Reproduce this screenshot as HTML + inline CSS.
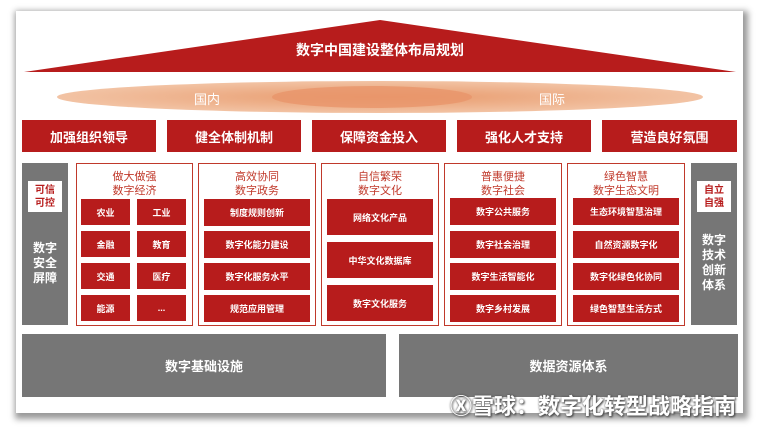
<!DOCTYPE html>
<html><head><meta charset="utf-8"><style>
body{margin:0;width:759px;height:429px;background:#fff;position:relative;overflow:hidden;font-family:"Liberation Sans","Noto Sans CJK SC",sans-serif}
.a{position:absolute;box-sizing:border-box}
.card{left:16px;top:11px;width:727px;height:402px;background:#fff;box-shadow:2px 3px 6px 3px #999}
.r{background:#b71c1c;color:#fff;font-weight:bold;display:flex;align-items:center;justify-content:center;text-align:center}
.top{font-size:13px}
.col{border:1.5px solid #c0392b;background:#fff}
.ct{color:#c0392b;font-size:11px;text-align:center;line-height:14px}
.s{font-size:9px}
.g{background:#767676;color:#fff;font-weight:bold;display:flex;align-items:center;justify-content:center;text-align:center}
.wb{background:#fff;color:#b71c1c;font-size:10px;font-weight:bold;line-height:13px;display:flex;align-items:center;justify-content:center;text-align:center}
</style></head><body>
<div class="a card"></div>
<svg class="a" style="left:0;top:0" width="759" height="429">
<defs><radialGradient id="e" cx="50%" cy="50%" r="50%"><stop offset="0" stop-color="#e89a6c"/><stop offset="1" stop-color="#f2c3a4"/></radialGradient></defs>
<polygon points="24,72 380,20 736,72" fill="#b71c1c"/>
<ellipse cx="380" cy="97" rx="323" ry="16" fill="url(#e)"/>
<ellipse cx="372" cy="97" rx="100" ry="11" fill="#e8956a" opacity="0.8"/>
<text x="380" y="55" fill="#fff" font-size="14" font-weight="bold" text-anchor="middle" font-family="Liberation Sans,Noto Sans CJK SC,sans-serif">数字中国建设整体布局规划</text>
<text x="207" y="104" fill="#fff" font-size="13" text-anchor="middle" font-family="Liberation Sans,Noto Sans CJK SC,sans-serif">国内</text>
<text x="552" y="104" fill="#fff" font-size="13" text-anchor="middle" font-family="Liberation Sans,Noto Sans CJK SC,sans-serif">国际</text>
</svg>
<div class="a r top" style="left:22px;top:120px;width:134px;height:32px">加强组织领导</div>
<div class="a r top" style="left:167px;top:120px;width:134px;height:32px">健全体制机制</div>
<div class="a r top" style="left:312px;top:120px;width:134px;height:32px">保障资金投入</div>
<div class="a r top" style="left:457px;top:120px;width:134px;height:32px">强化人才支持</div>
<div class="a r top" style="left:602px;top:120px;width:135px;height:32px">营造良好氛围</div>

<div class="a g" style="left:22px;top:163px;width:46px;height:162px;font-size:12px;line-height:15px;padding-top:38px">数字<br>安全<br>屏障</div>
<div class="a wb" style="left:28px;top:181px;width:34px;height:31px">可信<br>可控</div>
<div class="a g" style="left:691px;top:163px;width:46px;height:162px;font-size:12px;line-height:15px;padding-top:38px">数字<br>技术<br>创新<br>体系</div>
<div class="a wb" style="left:697px;top:181px;width:34px;height:31px">自立<br>自强</div>

<div class="a col" style="left:76px;top:163px;width:117px;height:163px"></div>
<div class="a ct" style="left:76px;top:170px;width:117px">做大做强<br>数字经济</div>
<div class="a r s" style="left:81px;top:199px;width:49px;height:26px">农业</div>
<div class="a r s" style="left:137px;top:199px;width:49px;height:26px">工业</div>
<div class="a r s" style="left:81px;top:231px;width:49px;height:26px">金融</div>
<div class="a r s" style="left:137px;top:231px;width:49px;height:26px">教育</div>
<div class="a r s" style="left:81px;top:263px;width:49px;height:26px">交通</div>
<div class="a r s" style="left:137px;top:263px;width:49px;height:26px">医疗</div>
<div class="a r s" style="left:81px;top:295px;width:49px;height:26px">能源</div>
<div class="a r s" style="left:137px;top:295px;width:49px;height:26px">...</div>

<div class="a col" style="left:198px;top:163px;width:118px;height:163px"></div>
<div class="a ct" style="left:198px;top:170px;width:118px">高效协同<br>数字政务</div>
<div class="a r s" style="left:204px;top:199px;width:106px;height:27px">制度规则创新</div>
<div class="a r s" style="left:204px;top:231px;width:106px;height:27px">数字化能力建设</div>
<div class="a r s" style="left:204px;top:263px;width:106px;height:27px">数字化服务水平</div>
<div class="a r s" style="left:204px;top:295px;width:106px;height:27px">规范应用管理</div>

<div class="a col" style="left:321px;top:163px;width:118px;height:163px"></div>
<div class="a ct" style="left:321px;top:170px;width:118px">自信繁荣<br>数字文化</div>
<div class="a r s" style="left:327px;top:199px;width:106px;height:36px">网络文化产品</div>
<div class="a r s" style="left:327px;top:242px;width:106px;height:36px">中华文化数据库</div>
<div class="a r s" style="left:327px;top:285px;width:106px;height:36px">数字文化服务</div>

<div class="a col" style="left:444px;top:163px;width:118px;height:163px"></div>
<div class="a ct" style="left:444px;top:170px;width:118px">普惠便捷<br>数字社会</div>
<div class="a r s" style="left:450px;top:198px;width:106px;height:27px">数字公共服务</div>
<div class="a r s" style="left:450px;top:231px;width:106px;height:27px">数字社会治理</div>
<div class="a r s" style="left:450px;top:263px;width:106px;height:27px">数字生活智能化</div>
<div class="a r s" style="left:450px;top:295px;width:106px;height:27px">数字乡村发展</div>

<div class="a col" style="left:567px;top:163px;width:118px;height:163px"></div>
<div class="a ct" style="left:567px;top:170px;width:118px">绿色智慧<br>数字生态文明</div>
<div class="a r s" style="left:573px;top:198px;width:106px;height:27px">生态环境智慧治理</div>
<div class="a r s" style="left:573px;top:231px;width:106px;height:27px">自然资源数字化</div>
<div class="a r s" style="left:573px;top:263px;width:106px;height:27px">数字化绿色化协同</div>
<div class="a r s" style="left:573px;top:295px;width:106px;height:27px">绿色智慧生活方式</div>

<div class="a g" style="left:22px;top:334px;width:364px;height:63px;font-size:13px">数字基础设施</div>
<div class="a g" style="left:399px;top:334px;width:339px;height:63px;font-size:13px">数据资源体系</div>
<div class="a" style="left:450px;top:389px;font-size:22px;font-weight:bold;color:#fff;text-shadow:0 0 2px #555,1px 1px 2px #333;white-space:nowrap">Ⓧ雪球：数字化转型战略指南</div>
</body></html>
